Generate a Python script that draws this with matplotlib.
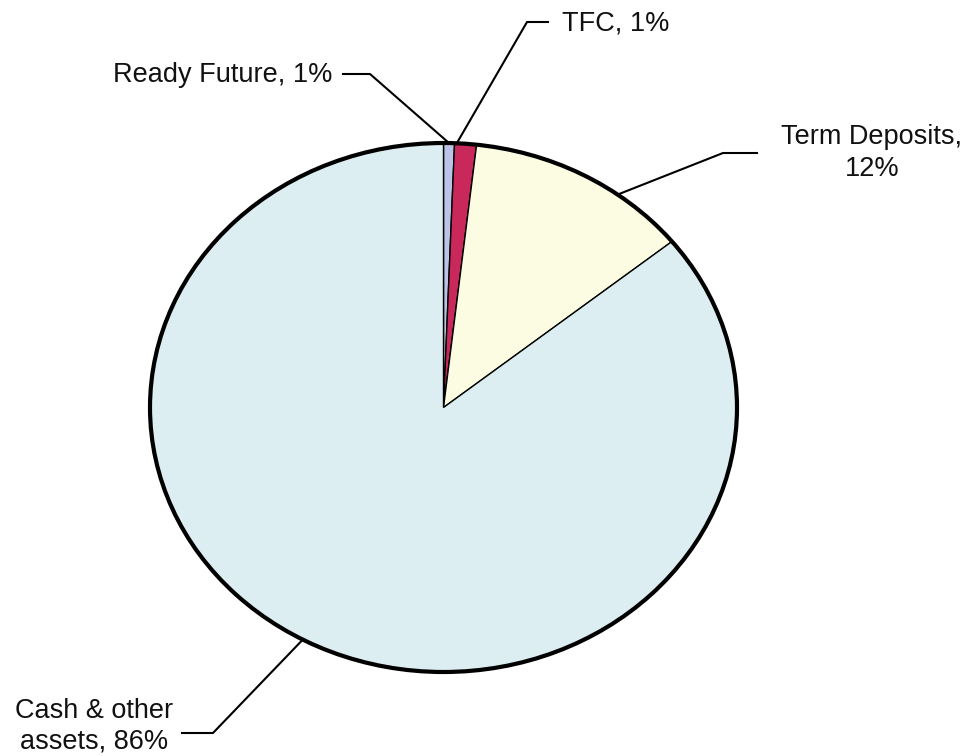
import numpy as np
import matplotlib
matplotlib.use("Agg")
import matplotlib.pyplot as plt
from matplotlib.patches import Ellipse

plt.rcParams['font.family'] = ['Liberation Sans', 'DejaVu Sans']

# ── data ──
names = ['Ready Future', 'TFC', 'Term Deposits', 'Cash & other\nassets']
shares = [0.6, 1.2, 12.4, 85.8]
colors = ['#BCC3E8', '#C8285A', '#FCFCE2', '#DCEEF1']

# ── layout (pixel positions in a 970x756 canvas) ──
W, H = 970, 756
cx, cy, rx, ry = 443.5, 407.5, 293.5, 264.5

def to_data(px, py):
    return (px - cx) / rx, (cy - py) / ry

fig = plt.figure(figsize=(9.7, 7.56), dpi=100)
ax = fig.add_axes([0, 0, 1, 1])
wedges, _ = ax.pie(shares, colors=colors, startangle=90, counterclock=False,
                   radius=1, wedgeprops=dict(edgecolor='black', linewidth=1.0))
ax.set_aspect('auto')
ax.set_xlim(-cx / rx, (W - cx) / rx)
ax.set_ylim((cy - H) / ry, cy / ry)
ax.axis('off')
ax.add_patch(Ellipse((0, 0), 2, 2, fill=False, edgecolor='black', lw=3.0, zorder=5))

# label anchor, leader-line knee, alignment, separator, where the line meets the wedge
label_pos = [(332, 75), (562, 24), (872, 153), (94, 726)]
knees = [[(343, 74), (370, 74)], [(548, 22), (527, 22)],
         [(757, 153), (723, 153)], [(182, 733), (213, 733)]]
aligns = ['right', 'left', 'center', 'center']
seps = [', ', ', ', ',\n', ', ']
attach = [0.5, 0.9, 0.33, 0.49]

for w, name, v, pos, kn, ha, sep, f in zip(wedges, names, shares, label_pos,
                                           knees, aligns, seps, attach):
    th = np.deg2rad(w.theta1 + (w.theta2 - w.theta1) * f)
    ex, ey = np.cos(th), np.sin(th)
    xs = [to_data(*p)[0] for p in kn] + [ex]
    ys = [to_data(*p)[1] for p in kn] + [ey]
    ax.plot(xs, ys, color='black', lw=1.5, clip_on=False, zorder=6)
    tx, ty = to_data(*pos)
    ax.text(tx, ty, f'{name}{sep}{v:.0f}%', ha=ha, va='center', fontsize=19.5,
            multialignment='center', linespacing=1.25, color='#111111')

fig.savefig('out.png', dpi=100, facecolor='white')
